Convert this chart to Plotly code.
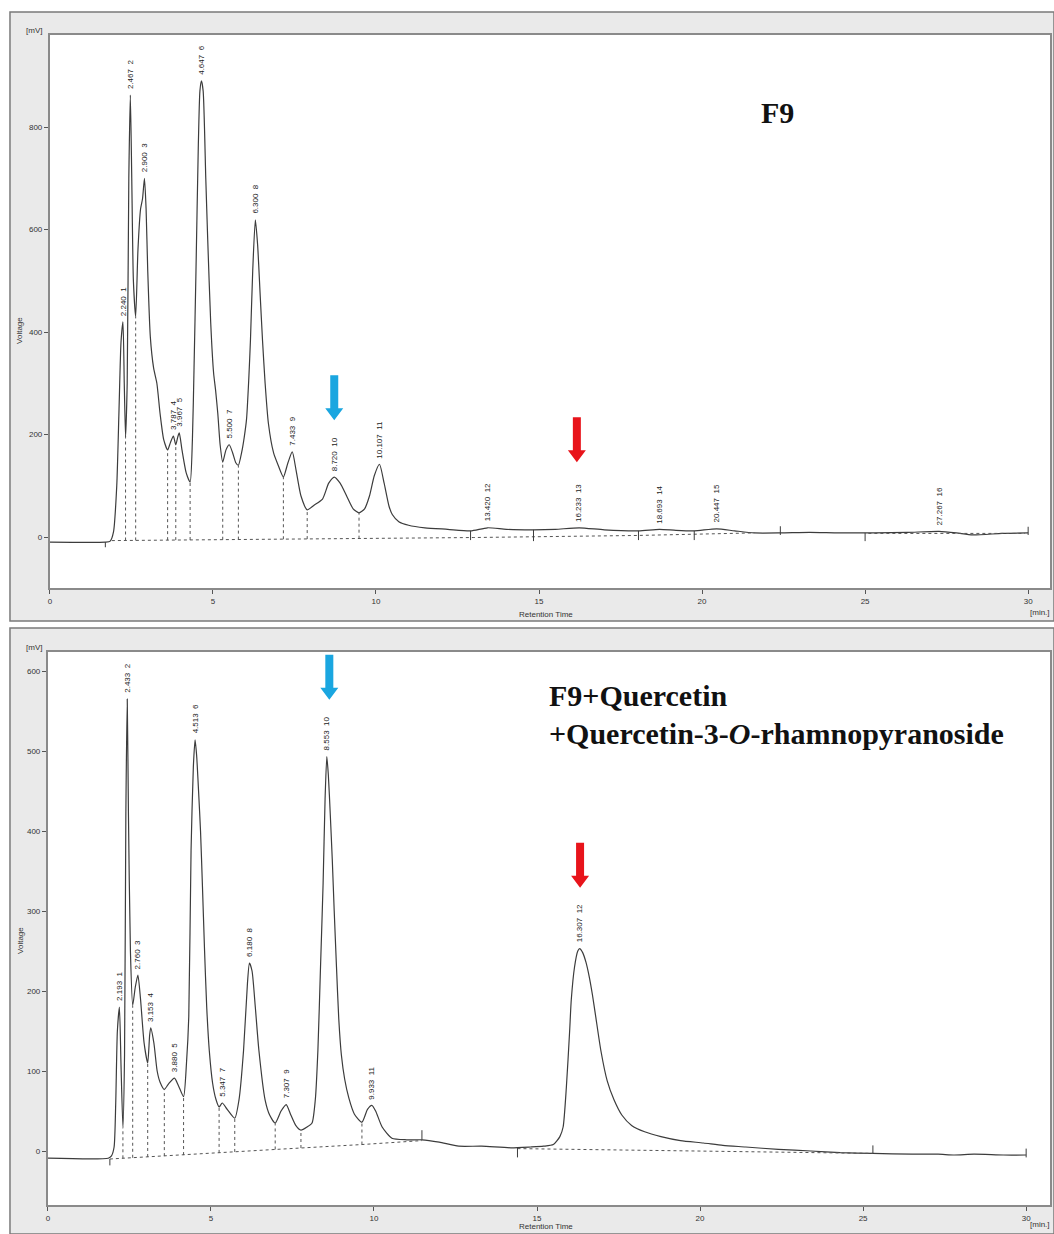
import numpy as np
import plotly.graph_objects as go

W, H = 1054, 1234

# ---------------- DATA ----------------
# Top chromatogram: F9
top_t = [0, 1.7, 1.85, 1.95, 2.05, 2.12, 2.18, 2.24, 2.28, 2.32, 2.37, 2.42, 2.467, 2.51, 2.56, 2.63,
         2.7, 2.78, 2.84, 2.90, 2.95, 3.0, 3.08, 3.18, 3.28, 3.38, 3.49, 3.61, 3.70, 3.787, 3.86, 3.92,
         3.967, 4.05, 4.18, 4.30, 4.37, 4.42, 4.48, 4.55, 4.60, 4.647, 4.70, 4.78, 4.84, 4.93, 5.02,
         5.08, 5.15, 5.22, 5.30, 5.40, 5.50, 5.60, 5.70, 5.78, 5.88, 5.96, 6.03, 6.10, 6.15, 6.22, 6.30,
         6.37, 6.45, 6.52, 6.60, 6.70, 6.86, 7.0, 7.16, 7.30, 7.433, 7.55, 7.70, 7.89, 8.1, 8.36, 8.55,
         8.72, 8.9, 9.1, 9.3, 9.48, 9.65, 9.8, 9.95, 10.107, 10.25, 10.4, 10.5, 10.7, 11.0, 11.5, 12.2,
         12.9, 13.42, 14.0, 14.83, 15.5, 16.233, 17.0, 18.05, 18.693, 19.2, 19.76, 20.447, 21.0, 21.6,
         22.4, 23.3, 24.2, 25.3, 26.3, 27.267, 27.8, 28.3, 29.2, 30.0]
top_mv = [-10, -10, -8, 10, 100, 250, 380, 420, 300, 195, 300, 700, 862, 700, 500, 430,
          560, 640, 660, 700, 640, 520, 390, 330, 300, 240, 190, 170, 185, 197, 180, 195,
          203, 170, 125, 107, 190, 330, 520, 760, 870, 890, 870, 700, 580, 420, 320,
          287, 240, 180, 146, 170, 180, 165, 145, 140, 165, 195, 230, 310, 384, 520, 619,
          570, 470, 384, 300, 222, 164, 140, 117, 145, 166, 130, 80, 53, 62, 74, 105,
          117, 105, 80, 55, 47, 55, 80, 120, 142, 105, 60, 44, 30, 23, 18, 15,
          12, 18, 15, 14, 15, 18, 14, 12, 15, 13, 12, 16, 12, 8,
          8, 9, 8, 8, 9, 11, 8, 4, 7, 8]
top_base_t = [1.9, 10.0, 13.0, 18.0, 21.6]
top_base_mv = [-7, -3, -1, 3, 8]
top_base2_t = [25.1, 29.9]
top_base2_mv = [7, 7]
top_drop_t = [2.32, 2.63, 3.61, 3.86, 4.30, 5.30, 5.78, 7.16, 7.89, 9.48]
top_event_t = [1.7, 12.9, 14.83, 18.05, 19.76, 22.4, 25.0, 30.0]
top_event_lo = [-20, -6, -8, -6, -6, 4, -8, 4]
top_event_hi = [-10, 12, 14, 12, 12, 21, 8, 20]
top_peak_rt = [2.240, 2.467, 2.900, 3.787, 3.967, 4.647, 5.500, 6.300, 7.433, 8.720, 10.107,
               13.420, 16.233, 18.693, 20.447, 27.267]
top_peak_no = list(range(1, 17))

# Bottom chromatogram: F9 + Quercetin + Quercetin-3-O-rhamnopyranoside
bot_t = [0, 1.85, 1.95, 2.03, 2.08, 2.13, 2.193, 2.24, 2.30, 2.35, 2.39, 2.433, 2.47, 2.53, 2.60,
         2.68, 2.76, 2.84, 2.95, 3.06, 3.12, 3.153, 3.25, 3.35, 3.44, 3.57, 3.70, 3.88, 4.0, 4.16,
         4.25, 4.32, 4.39, 4.46, 4.513, 4.56, 4.62, 4.68, 4.74, 4.80, 4.87, 4.95, 5.05, 5.15, 5.25,
         5.347, 5.5, 5.73,
         5.86, 6.0, 6.12, 6.18, 6.26, 6.36, 6.47, 6.66, 6.8, 6.97, 7.15, 7.307, 7.45, 7.6, 7.76,
         7.95, 8.1, 8.2, 8.28, 8.36, 8.44, 8.50, 8.553, 8.60, 8.66, 8.72, 8.78, 8.85, 8.92, 9.0,
         9.1, 9.23, 9.4,
         9.63, 9.8, 9.933, 10.05, 10.25, 10.55, 11.0, 11.47, 12.0, 12.6, 13.3, 14.2, 14.8, 15.2,
         15.5, 15.7, 15.8, 15.9, 16.0, 16.05, 16.15, 16.25, 16.307, 16.4, 16.5, 16.6, 16.7, 16.8,
         16.96, 17.15, 17.36, 17.6, 17.9, 18.3, 18.8, 19.4, 20.1, 20.7, 21.4, 22.4, 23.4, 24.3,
         25.3, 26.5, 27.3, 27.8, 28.4, 29.3, 30.0]
bot_mv = [-9, -9, -6, 5, 60, 150, 180, 110, 29, 120, 420, 565, 420, 250, 182,
          205, 220, 190, 135, 110, 145, 154, 135, 100, 86, 77, 84, 91, 82, 68,
          110, 168, 376, 480, 514, 495, 450, 400, 330, 255, 180, 125, 85, 65, 55,
          60, 52, 41,
          64, 126, 210, 235, 225, 180, 126, 64, 45, 35, 50, 58, 45, 32, 26,
          30, 35, 64, 126, 230, 335, 440, 493, 470, 420, 365, 300, 230, 165, 120,
          90, 66, 46,
          36, 52, 57, 50, 30, 16, 14, 14, 11, 6, 6, 4, 5, 6,
          8, 18, 30, 80, 150, 189, 230, 250, 253, 248, 236, 218, 195, 168,
          125, 88, 64, 45, 32, 24, 18, 13, 10, 7, 5, 2, 0, -2,
          -3, -4, -4, -5, -4, -5, -5]
bot_base_t = [1.9, 4.2, 7.0, 9.6, 11.47]
bot_base_mv = [-10, -5, 2, 8, 13]
bot_base2_t = [14.4, 25.3]
bot_base2_mv = [3, -3]
bot_drop_t = [2.30, 2.60, 3.06, 3.57, 4.16, 5.25, 5.73, 6.97, 7.76, 9.63]
bot_event_t = [1.9, 11.47, 14.4, 25.3, 30.0]
bot_event_lo = [-18, 14, -8, -3, -8]
bot_event_hi = [-10, 26, 5, 7, 3]
bot_peak_rt = [2.193, 2.433, 2.760, 3.153, 3.880, 4.513, 5.347, 6.180, 7.307, 8.553, 9.933, 16.307]
bot_peak_no = list(range(1, 13))

x_ticks = [0, 5, 10, 15, 20, 25, 30]
top_y_ticks = [0, 200, 400, 600, 800]
bot_y_ticks = [0, 100, 200, 300, 400, 500, 600]

# marker arrows (time, mV of arrow tip)
top_arrows = [(8.72, 228, "#1AA6E0"), (16.16, 146, "#E8141B")]
bot_arrows = [(8.63, 564, "#1AA6E0"), (16.32, 329, "#E8141B")]

# ---------------- helpers ----------------
def px(x):
    return x / W

def py(y):
    return 1 - y / H

LINE = "#3c3c3c"
SMALL = dict(family="Liberation Sans, Arial, sans-serif", size=8, color="#333333")

fig = go.Figure()


def add_panel(t, mv, bt, bmv, bt2, bmv2, drops, ev_t, ev_lo, ev_hi, prt, pno, xa, ya):
    fig.add_trace(go.Scatter(x=t, y=mv, mode="lines", xaxis=xa, yaxis=ya,
                             line=dict(color=LINE, width=1.2, shape="spline", smoothing=0.6),
                             hoverinfo="skip", showlegend=False))
    # baseline
    for a, b in ((bt, bmv), (bt2, bmv2)):
        fig.add_trace(go.Scatter(x=a, y=b, mode="lines", xaxis=xa, yaxis=ya,
                                 line=dict(color="#555555", width=1, dash="dot"),
                                 hoverinfo="skip", showlegend=False))
    # drop lines from baseline to the curve at valleys
    dx, dy = [], []
    for d in drops:
        dx += [d, d, None]
        dy += [float(np.interp(d, bt, bmv)), float(np.interp(d, t, mv)), None]
    fig.add_trace(go.Scatter(x=dx, y=dy, mode="lines", xaxis=xa, yaxis=ya,
                             line=dict(color="#555555", width=1, dash="dot"),
                             hoverinfo="skip", showlegend=False))
    # integration event ticks
    ex, ey = [], []
    for e, lo, hi in zip(ev_t, ev_lo, ev_hi):
        ex += [e, e, None]
        ey += [lo, hi, None]
    fig.add_trace(go.Scatter(x=ex, y=ey, mode="lines", xaxis=xa, yaxis=ya,
                             line=dict(color=LINE, width=1),
                             hoverinfo="skip", showlegend=False))
    # peak labels
    for r, n in zip(prt, pno):
        fig.add_annotation(x=r, y=float(np.interp(r, t, mv)), xref=xa, yref=ya,
                           text=f"{r:.3f}\u00a0\u00a0{n}", textangle=-90, showarrow=False,
                           xanchor="center", yanchor="bottom", yshift=4,
                           font=dict(family="Liberation Sans, Arial, sans-serif", size=8,
                                     color="#222222"))


add_panel(top_t, top_mv, top_base_t, top_base_mv, top_base2_t, top_base2_mv, top_drop_t,
          top_event_t, top_event_lo, top_event_hi, top_peak_rt, top_peak_no, "x", "y")
add_panel(bot_t, bot_mv, bot_base_t, bot_base_mv, bot_base2_t, bot_base2_mv, bot_drop_t,
          bot_event_t, bot_event_lo, bot_event_hi, bot_peak_rt, bot_peak_no, "x2", "y2")

# ---------------- window frames (background) ----------------
shapes = []
GREY = "#EAEAEA"
for (y0, y1) in ((12, 621), (628, 1234)):
    shapes.append(dict(type="rect", xref="paper", yref="paper", x0=px(8), x1=px(1054),
                       y0=py(y1), y1=py(y0), fillcolor=GREY, line=dict(color="#7a7a7a", width=1.5),
                       layer="below"))
for (x0, y0, y1) in ((48, 35, 588), (46, 652, 1205)):
    shapes.append(dict(type="rect", xref="paper", yref="paper", x0=px(x0), x1=px(1050),
                       y0=py(y1), y1=py(y0), fillcolor="white", line=dict(width=0), layer="below"))

# arrows as pixel-sized paths anchored at the arrow tip (pointing down)
ARROW = "M -4 45 L 4 45 L 4 12 L 9 12 L 0 0 L -9 12 L -4 12 Z"
for arrows, xa, ya in ((top_arrows, "x", "y"), (bot_arrows, "x2", "y2")):
    for (at, amv, col) in arrows:
        shapes.append(dict(type="path", xref=xa, yref=ya, xsizemode="pixel", ysizemode="pixel",
                           xanchor=at, yanchor=amv, path=ARROW,
                           fillcolor=col, line=dict(color=col, width=0)))

axis_common = dict(showgrid=False, zeroline=False, showline=True, linecolor="#8a8a8a",
                   linewidth=2, mirror=True, ticks="outside", ticklen=4, tickwidth=1,
                   tickcolor="#555555", tickfont=SMALL)

fig.update_layout(
    width=W, height=H, margin=dict(l=0, r=0, t=0, b=0),
    paper_bgcolor="white", plot_bgcolor="white", showlegend=False,
    shapes=shapes,
    xaxis=dict(domain=[px(48), px(1050)], range=[0, (1050 - 48) / 32.67], anchor="y",
               tickvals=x_ticks, **axis_common),
    yaxis=dict(domain=[py(588), py(35)], range=[-99.5, 979.5], anchor="x",
               tickvals=top_y_ticks, **axis_common),
    xaxis2=dict(domain=[px(46), px(1050)], range=[0, (1050 - 46) / 32.67], anchor="y2",
                tickvals=x_ticks, **axis_common),
    yaxis2=dict(domain=[py(1205), py(652)], range=[-67.5, 623.75], anchor="x2",
                tickvals=bot_y_ticks, **axis_common),
)

# ---------------- texts ----------------
def txt(x, y, s, angle=0, xanchor="center", font=SMALL):
    fig.add_annotation(x=px(x), y=py(y), xref="paper", yref="paper", text=s, showarrow=False,
                       textangle=angle, xanchor=xanchor, yanchor="middle", font=font)

for (ymv, yvol, yrt) in ((30, 330, 614), (647, 940, 1226)):
    txt(32, ymv, "[mV]")
    txt(18, yvol, "Voltage", angle=-90)
    txt(545, yrt, "Retention Time")
    txt(1028, yrt - 2, "[min.]", xanchor="left")

TITLE = dict(family="Liberation Serif, Times New Roman, serif", size=30, color="#111111")
txt(777, 112, "<b>F9</b>", font=TITLE)
txt(546, 695, "<b>F9+Quercetin</b>", xanchor="left", font=TITLE)
txt(546, 733, "<b>+Quercetin-3-<i>O</i>-rhamnopyranoside</b>", xanchor="left", font=TITLE)

fig.write_html("out.html", config={"displayModeBar": False},
               post_script="document.body.style.margin='0';document.body.style.overflow='hidden';")
